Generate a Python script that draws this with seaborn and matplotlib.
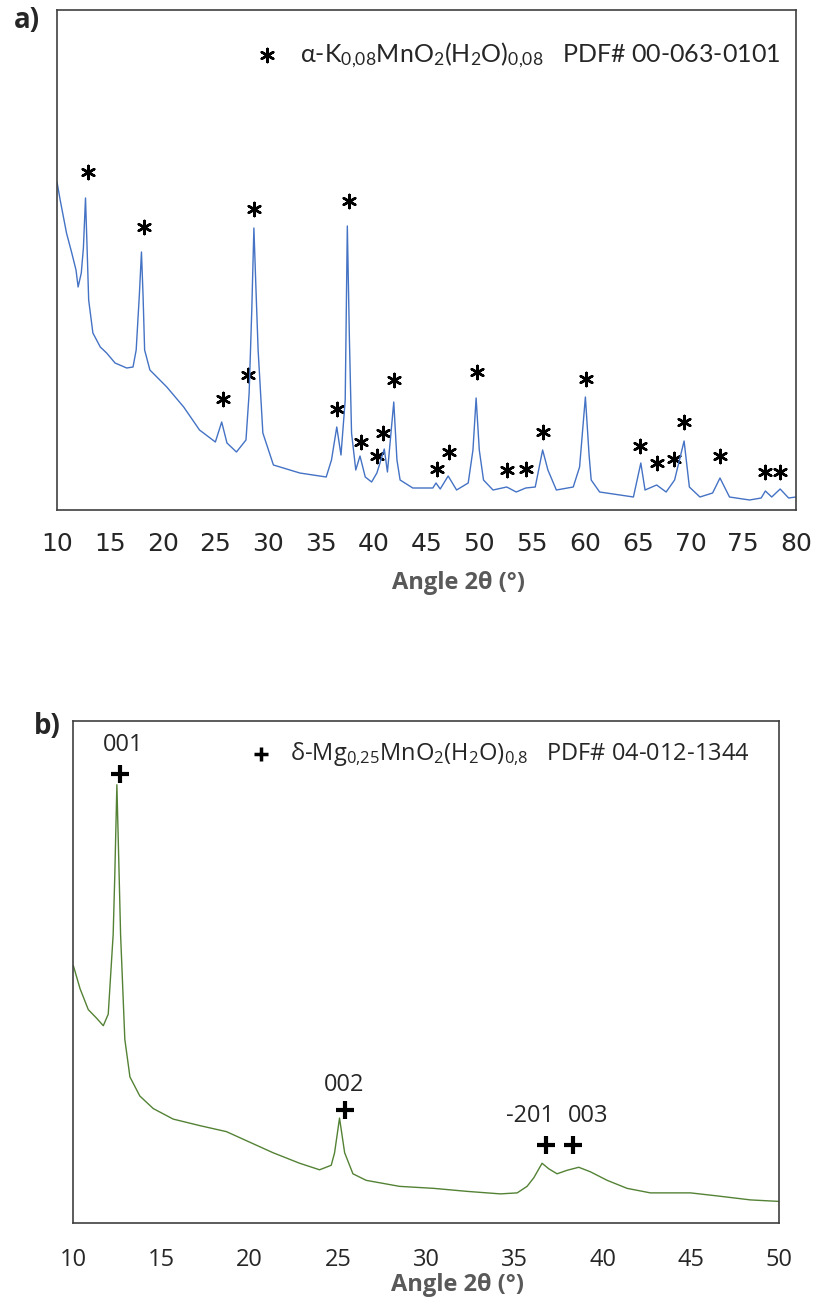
import numpy as np
import pandas as pd
import matplotlib
matplotlib.use("Agg")
import matplotlib.pyplot as plt
import seaborn as sns

# --- panel a : alpha-K0,08MnO2 pattern ---
angle_a = [10.0, 10.3, 10.9, 11.4, 11.8, 12.0, 12.3, 12.5, 12.7, 12.85, 13.0, 13.4, 14.1, 14.7,
           15.5, 16.6, 17.2, 17.5, 17.8, 18.0, 18.15, 18.3, 18.8, 20.4, 22.0, 23.5, 25.0, 25.6,
           26.1, 27.0, 27.9, 28.2, 28.45, 28.65, 28.85, 29.05, 29.5, 30.5, 33.0, 35.5, 36.0,
           36.5, 36.9, 37.3, 37.5, 37.7, 37.9, 38.3, 38.7, 39.2, 39.8, 40.3, 41.0, 41.3, 41.9,
           42.2, 42.5, 43.7, 45.6, 45.9, 46.3, 47.05, 47.85, 48.95, 49.4, 49.7, 50.0, 50.4,
           51.3, 52.6, 53.5, 54.4, 55.3, 56.0, 56.5, 57.3, 58.9, 59.5, 60.05, 60.4, 60.6, 61.4,
           64.6, 65.3, 65.7, 66.8, 67.7, 68.5, 69.4, 69.9, 70.9, 72.1, 72.8, 73.7, 75.6, 76.7,
           77.1, 77.7, 78.5, 79.3, 80.0]
intens_a = [328, 310, 277, 257, 240, 223, 237, 262, 312, 262, 210, 177, 163, 157,
            147, 142, 143, 160, 215, 258, 215, 160, 140, 123, 103, 80, 68, 88,
            67, 58, 70, 117, 200, 282, 220, 160, 77, 45, 37, 33, 50,
            83, 55, 110, 284, 170, 77, 40, 54, 33, 28, 37, 61, 38, 108,
            50, 30, 22, 22, 27, 21, 34, 20, 27, 60, 112, 60, 30,
            20, 23, 18, 22, 23, 60, 40, 20, 23, 43, 113, 55, 30, 18,
            13, 47, 20, 25, 18, 30, 69, 23, 13, 17, 32, 13, 10, 12,
            19, 13, 21, 12, 13]

# asterisks marking the reflections
star_x = [12.9, 18.2, 25.7, 28.05, 28.7, 36.5, 37.7, 38.75, 40.3, 40.85, 41.95, 45.95, 47.15,
          49.8, 52.6, 54.4, 56.0, 60.1, 65.2, 66.8, 68.45, 69.4, 72.8, 77.1, 78.5]
star_y = [338, 283, 111, 135, 301, 101, 309, 68, 54, 77, 130, 41, 58,
          138, 40, 41, 78, 131, 64, 47, 51, 88, 54, 38, 38]

# --- panel b : delta-Mg0,25MnO2 pattern ---
angle_b = [10.0, 10.38, 10.85, 11.32, 11.70, 11.98, 12.26, 12.35, 12.47, 12.6, 12.68, 12.92,
           13.21, 13.77, 14.53, 15.66, 17.17, 18.68, 20.0, 21.32, 22.83, 23.96, 24.62, 24.81,
           25.09, 25.38, 25.85, 26.6, 28.49, 30.43, 32.32, 34.21, 35.16, 35.72, 36.1, 36.57,
           36.95, 37.42, 37.99, 38.65, 39.31, 40.26, 41.39, 42.71, 44.98, 46.49, 48.38, 50.0]
intens_b = [513, 467, 425, 408, 393, 416, 575, 690, 873, 690, 575, 366,
            291, 253, 228, 207, 194, 182, 161, 140, 119, 106, 115, 140,
            209, 140, 98, 85, 73, 69, 63, 58, 60, 73, 90, 119,
            108, 98, 105, 111, 102, 85, 69, 60, 60, 54, 46, 43]

plus_x = [12.64, 25.42, 36.8, 38.31]
plus_y = [895, 225, 155, 155]
hkl_labels = ["001", "002", "-201", "003"]
hkl_x = [12.8, 25.32, 35.9, 39.2]
hkl_y = [952, 274, 213, 213]

ticks_a = list(range(10, 81, 5))
ticks_b = list(range(10, 51, 5))

df_a = pd.DataFrame({"angle": angle_a, "I": intens_a})
df_b = pd.DataFrame({"angle": angle_b, "I": intens_b})

sns.set_style("white")
plt.rcParams["font.family"] = ["Open Sans", "DejaVu Sans"]
plt.rcParams["mathtext.fontset"] = "custom"
plt.rcParams["mathtext.rm"] = "Open Sans"

W, H = 815, 1299
fig = plt.figure(figsize=(W / 100, H / 100), dpi=100)


def box(x0, y0, x1, y1):
    # pixel box -> figure fraction
    return [x0 / W, 1 - y1 / H, (x1 - x0) / W, (y1 - y0) / H]


ax_a = fig.add_axes(box(57, 10, 796, 510))
ax_b = fig.add_axes(box(73.3, 721, 779, 1223))

gray = "#595959"
for ax in (ax_a, ax_b):
    for s in ax.spines.values():
        s.set_color("#404040")
        s.set_linewidth(1.2)
    ax.set_yticks([])
    ax.tick_params(axis="x", direction="in", length=7, width=1, color=gray)

# panel a
sns.lineplot(data=df_a, x="angle", y="I", ax=ax_a, color="#4472C4", linewidth=1.0,
             sort=False, estimator=None)
sns.scatterplot(x=star_x, y=star_y, ax=ax_a, marker=(6, 2, 0), s=90, color="black",
                linewidth=1.8, edgecolor="black")
ax_a.scatter([29.9], [455], marker=(6, 2, 0), s=90, color="black", linewidths=1.8)
ax_a.text(33.0, 455, r"α-K$\mathregular{_{0{,}08}}$MnO$\mathregular{_2}$(H$\mathregular{_2}$O)$\mathregular{_{0{,}08}}$   PDF# 00-063-0101",
          fontsize=18, va="center", ha="left", family=["Lato", "DejaVu Sans"])
ax_a.set_xlim(10, 80)
ax_a.set_ylim(0, 500)
ax_a.set_xticks(ticks_a)
ax_a.set_xticklabels([str(t) for t in ticks_a], fontsize=18,
                     family=["Liberation Sans Narrow", "DejaVu Sans"])
ax_a.tick_params(axis="x", pad=16)
ax_a.set_xlabel("Angle 2θ (°)", fontsize=17, fontweight="bold", color=gray)
ax_a.xaxis.set_label_coords(0.543, -0.146)
ax_a.xaxis.label.set_va("center")
ax_a.set_ylabel("Intensité (u.a.)", fontsize=17, fontweight="bold", color=gray)
ax_a.yaxis.set_label_coords(-0.034, 0.414)
ax_a.yaxis.label.set_va("center")

# panel b
sns.lineplot(data=df_b, x="angle", y="I", ax=ax_b, color="#548235", linewidth=1.0,
             sort=False, estimator=None)
sns.scatterplot(x=plus_x, y=plus_y, ax=ax_b, marker="+", s=150, color="black", linewidth=3)
ax_b.scatter([20.66], [934], marker="+", s=110, color="black", linewidths=2.5)
ax_b.text(22.28, 934, r"δ-Mg$\mathregular{_{0{,}25}}$MnO$\mathregular{_2}$(H$\mathregular{_2}$O)$\mathregular{_{0{,}8}}$   PDF# 04-012-1344",
          fontsize=17, va="center", ha="left")
for x, y, lab in zip(hkl_x, hkl_y, hkl_labels):
    ax_b.text(x, y, lab, fontsize=17, ha="center", va="center")
ax_b.set_xlim(10, 50)
ax_b.set_ylim(0, 1000)
ax_b.set_xticks(ticks_b)
ax_b.set_xticklabels([str(t) for t in ticks_b], fontsize=17)
ax_b.tick_params(axis="x", pad=18)
ax_b.set_xlabel("Angle 2θ (°)", fontsize=17, fontweight="bold", color=gray)
ax_b.xaxis.set_label_coords(0.545, -0.124)
ax_b.xaxis.label.set_va("center")
ax_b.set_ylabel("Intensité (u.a.)", fontsize=17, fontweight="bold", color=gray)
ax_b.yaxis.set_label_coords(-0.046, 0.434)
ax_b.yaxis.label.set_va("center")

fig.text(27 / W, 1 - 20 / H, "a)", fontsize=20, fontweight="bold", ha="center", va="center")
fig.text(47 / W, 1 - 727 / H, "b)", fontsize=20, fontweight="bold", ha="center", va="center")

fig.savefig("out.png", dpi=100)
